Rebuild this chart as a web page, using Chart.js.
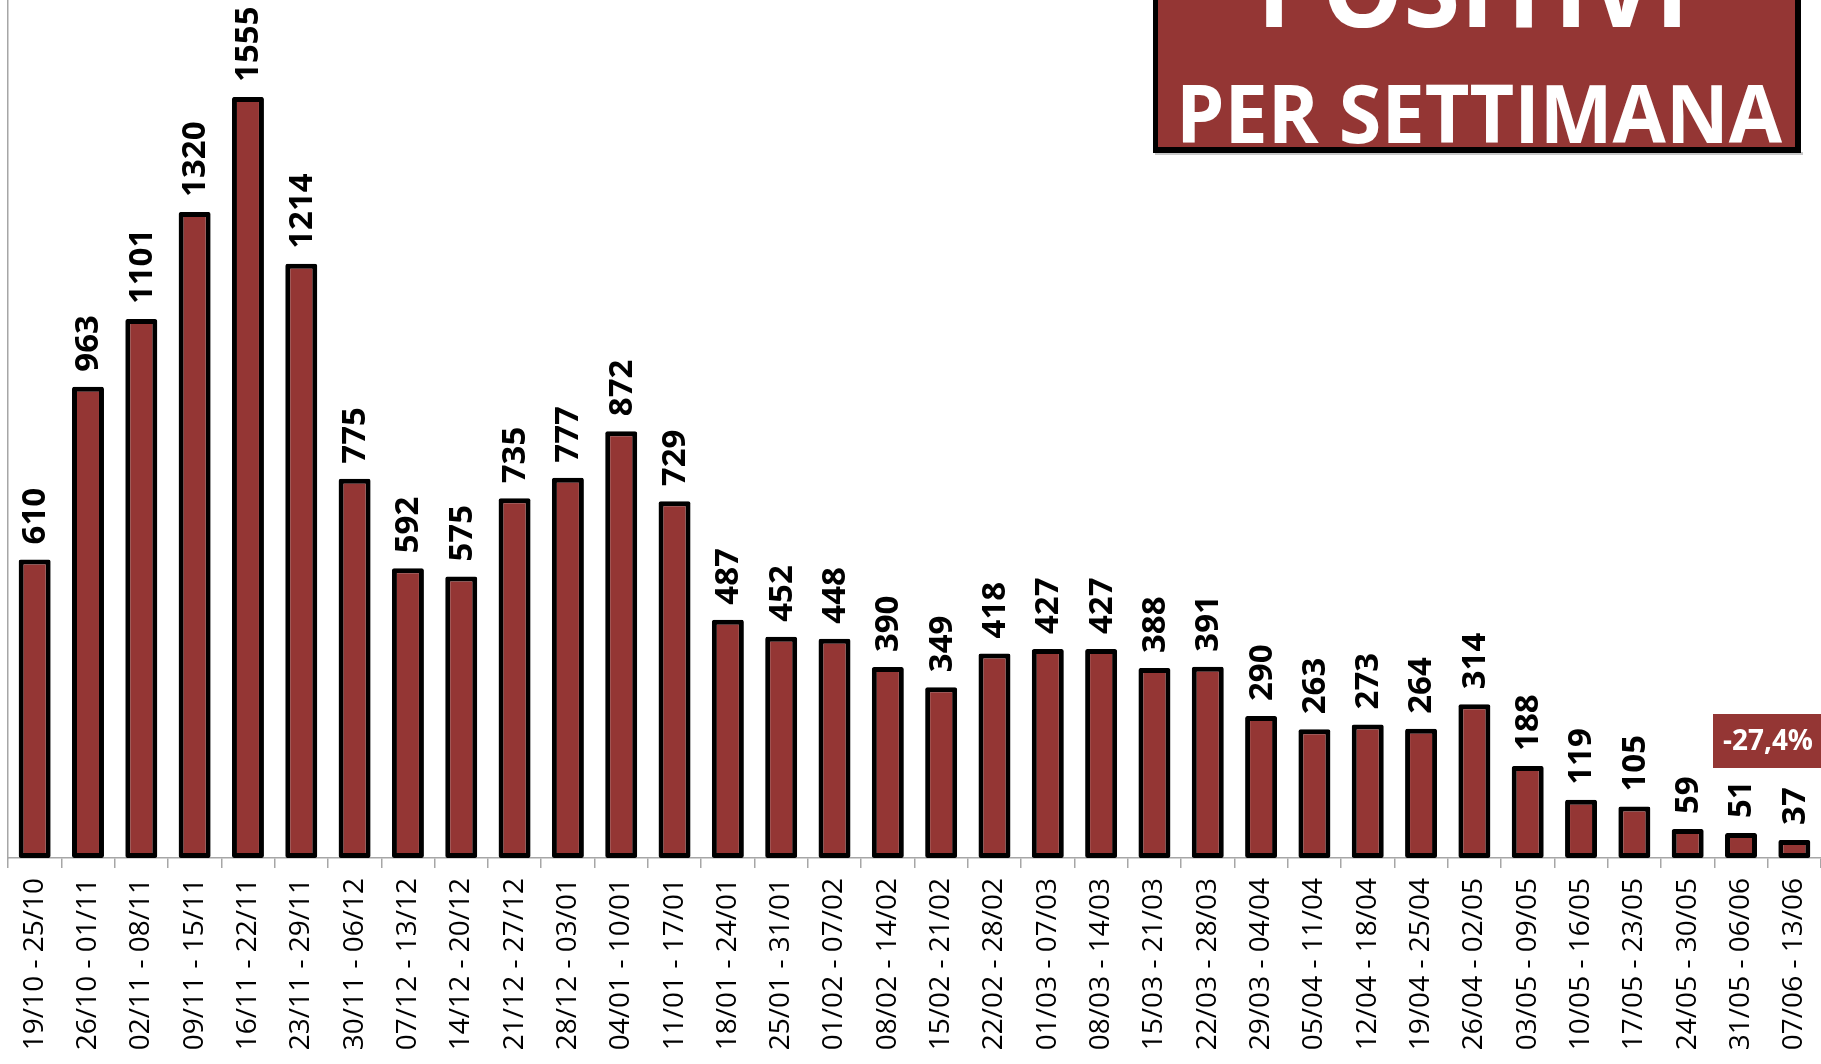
<!DOCTYPE html>
<html>
<head>
<meta charset="utf-8">
<script src="https://cdn.jsdelivr.net/npm/chart.js@4/dist/chart.umd.min.js"></script>
<style>
    html, body { margin: 0; padding: 0; background: #fff; }
    #wrap { width: 1821px; height: 1064px; position: relative; }
</style>
</head>
<body>
<div id="wrap"><canvas id="weeklyChart"></canvas></div>
<script>
// Weekly positive cases
const weeks = [
    '19/10 - 25/10', '26/10 - 01/11', '02/11 - 08/11', '09/11 - 15/11', '16/11 - 22/11',
    '23/11 - 29/11', '30/11 - 06/12', '07/12 - 13/12', '14/12 - 20/12', '21/12 - 27/12',
    '28/12 - 03/01', '04/01 - 10/01', '11/01 - 17/01', '18/01 - 24/01', '25/01 - 31/01',
    '01/02 - 07/02', '08/02 - 14/02', '15/02 - 21/02', '22/02 - 28/02', '01/03 - 07/03',
    '08/03 - 14/03', '15/03 - 21/03', '22/03 - 28/03', '29/03 - 04/04', '05/04 - 11/04',
    '12/04 - 18/04', '19/04 - 25/04', '26/04 - 02/05', '03/05 - 09/05', '10/05 - 16/05',
    '17/05 - 23/05', '24/05 - 30/05', '31/05 - 06/06', '07/06 - 13/06'
];
const positives = [
    610, 963, 1101, 1320, 1555, 1214, 775, 592, 575, 735,
    777, 872, 729, 487, 452, 448, 390, 349, 418, 427,
    427, 388, 391, 290, 263, 273, 264, 314, 188, 119,
    105, 59, 51, 37
];
const titleLines = ['POSITIVI', 'PER SETTIMANA'];
const changeLabel = '-27,4%';

const RED = '#943634';

// Value labels, rotated, above each bar
const valueLabels = {
    id: 'valueLabels',
    afterDatasetsDraw(chart) {
        const ctx = chart.ctx;
        const meta = chart.getDatasetMeta(0);
        ctx.save();
        ctx.fillStyle = '#000';
        ctx.font = 'bold 33px "Open Sans"';
        ctx.textAlign = 'left';
        ctx.textBaseline = 'middle';
        meta.data.forEach((bar, i) => {
            ctx.save();
            ctx.translate(bar.x + 1, bar.y - 15);
            ctx.rotate(-Math.PI / 2);
            ctx.fillText(String(positives[i]), 0, 0);
            ctx.restore();
        });
        ctx.restore();
    }
};

// Title box and the last-week change badge
const annotations = {
    id: 'annotations',
    afterDraw(chart) {
        const ctx = chart.ctx;
        ctx.save();

        // title box
        ctx.fillStyle = '#c8c8c8';
        ctx.fillRect(1155, 152, 648, 3);
        ctx.fillStyle = '#000';
        ctx.fillRect(1153, -10, 648, 163);
        ctx.fillStyle = RED;
        ctx.fillRect(1158, -10, 637, 157);

        ctx.fillStyle = '#fff';
        ctx.textAlign = 'center';
        ctx.textBaseline = 'alphabetic';
        ctx.font = 'bold 109px "Open Sans"';
        ctx.fillText(titleLines[0], 1473, 27, 432);
        ctx.font = 'bold 80px "Open Sans"';
        ctx.fillText(titleLines[1], 1479, 143, 606);

        // change badge, cut by the right edge
        ctx.fillStyle = RED;
        ctx.fillRect(1713, 714, 120, 54);
        ctx.fillStyle = '#fff';
        ctx.font = 'bold 28px "Open Sans"';
        ctx.textAlign = 'left';
        ctx.textBaseline = 'middle';
        ctx.fillText(changeLabel, 1723, 742, 90);

        ctx.restore();
    }
};

const ctx = document.getElementById('weeklyChart').getContext('2d');
new Chart(ctx, {
    type: 'bar',
    data: {
        labels: weeks,
        datasets: [{
            label: 'Positivi',
            data: positives,
            backgroundColor: RED,
            borderColor: '#000',
            borderWidth: 5,
            borderSkipped: false,
            borderRadius: 2,
            categoryPercentage: 1,
            barPercentage: 0.6
        }]
    },
    options: {
        responsive: true,
        maintainAspectRatio: false,
        animation: false,
        layout: { padding: { left: 8, right: 0, top: 0, bottom: 0 } },
        plugins: {
            legend: { display: false },
            tooltip: { enabled: false }
        },
        scales: {
            x: {
                grid: {
                    offset: true,
                    drawOnChartArea: false,
                    drawTicks: true,
                    tickLength: 10,
                    color: '#a6a6a6',
                    lineWidth: 1.5
                },
                border: { color: '#a6a6a6', width: 1.5 },
                ticks: {
                    color: '#000',
                    font: { family: 'Open Sans', size: 28 },
                    minRotation: 90,
                    maxRotation: 90,
                    autoSkip: false,
                    padding: 10
                },
                afterFit(scale) {
                    scale.height = 206;
                    scale.paddingLeft = 0;
                    scale.paddingRight = 0;
                }
            },
            y: {
                min: 0,
                max: 1753,
                grid: { display: false },
                border: { color: '#a6a6a6', width: 1.5 },
                ticks: { display: false },
                afterFit(scale) { scale.width = 0; }
            }
        }
    },
    plugins: [valueLabels, annotations]
});
</script>
</body>
</html>
